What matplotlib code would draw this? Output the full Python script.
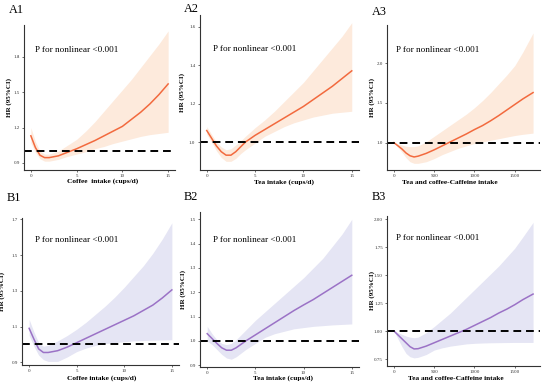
import matplotlib
matplotlib.use("Agg")
import matplotlib.pyplot as plt
from matplotlib.ticker import FormatStrFormatter

plt.rcParams['font.family'] = ['Liberation Serif', 'DejaVu Serif']

# ---- data ----
# coffee / tea in cups/d, caffeine in mg
a1_x = [0, 0.5, 1, 1.5, 2, 3, 4, 5, 6, 7, 8, 9, 10, 11, 12, 13, 14, 15]
a1_hr = [1.13, 1.03, 0.965, 0.945, 0.945, 0.96, 0.99, 1.02, 1.055, 1.09, 1.13, 1.17, 1.21, 1.27, 1.33, 1.40, 1.48, 1.57]
a1_up = [1.20, 1.08, 1.0, 0.975, 0.975, 1.0, 1.05, 1.10, 1.17, 1.25, 1.34, 1.43, 1.52, 1.61, 1.71, 1.81, 1.91, 2.02]
a1_lo = [1.07, 0.99, 0.935, 0.915, 0.915, 0.93, 0.955, 0.975, 0.995, 1.02, 1.04, 1.065, 1.085, 1.105, 1.125, 1.14, 1.15, 1.16]

a2_x = [0, 0.5, 1, 1.5, 2, 2.5, 3, 3.5, 4, 5, 6, 7, 8, 9, 10, 11, 12, 13, 14, 15]
a2_hr = [1.06, 1.02, 0.98, 0.95, 0.932, 0.932, 0.95, 0.975, 1.0, 1.035, 1.065, 1.095, 1.125, 1.155, 1.185, 1.22, 1.255, 1.29, 1.33, 1.37]
a2_up = [1.08, 1.04, 1.0, 0.975, 0.96, 0.965, 0.985, 1.005, 1.03, 1.075, 1.115, 1.16, 1.21, 1.26, 1.31, 1.37, 1.43, 1.49, 1.55, 1.62]
a2_lo = [1.04, 1.0, 0.955, 0.92, 0.9, 0.9, 0.915, 0.94, 0.96, 0.995, 1.03, 1.055, 1.08, 1.10, 1.115, 1.13, 1.14, 1.15, 1.155, 1.16]

a3_x = [0, 50, 100, 150, 200, 250, 300, 400, 500, 600, 700, 800, 900, 1000, 1100, 1200, 1300, 1400, 1500, 1600, 1727]
a3_hr = [1.0, 0.96, 0.92, 0.87, 0.835, 0.82, 0.83, 0.865, 0.91, 0.96, 1.01, 1.06, 1.11, 1.165, 1.215, 1.275, 1.34, 1.41, 1.48, 1.55, 1.63]
a3_up = [1.0, 0.985, 0.97, 0.955, 0.95, 0.95, 0.96, 1.01, 1.08, 1.15, 1.22, 1.29, 1.36, 1.44, 1.53, 1.63, 1.74, 1.85, 1.97, 2.14, 2.38]
a3_lo = [1.0, 0.94, 0.88, 0.81, 0.76, 0.74, 0.74, 0.76, 0.80, 0.85, 0.89, 0.93, 0.96, 0.99, 1.01, 1.03, 1.05, 1.07, 1.09, 1.105, 1.12]

b1_x = [0, 0.5, 1, 1.5, 2, 3, 4, 5, 6, 7, 8, 9, 10, 11, 12, 13, 14, 15]
b1_hr = [1.09, 1.03, 0.975, 0.955, 0.955, 0.965, 0.985, 1.01, 1.035, 1.06, 1.085, 1.11, 1.135, 1.16, 1.19, 1.22, 1.26, 1.305]
b1_up = [1.14, 1.07, 1.01, 0.99, 0.995, 1.02, 1.05, 1.085, 1.125, 1.17, 1.215, 1.265, 1.32, 1.38, 1.44, 1.51, 1.59, 1.68]
b1_lo = [1.05, 0.99, 0.94, 0.915, 0.905, 0.905, 0.93, 0.96, 0.98, 0.995, 1.005, 1.01, 1.015, 1.02, 1.022, 1.024, 1.025, 1.026]

b2_x = [0, 0.5, 1, 1.5, 2, 2.5, 3, 3.5, 4, 5, 6, 7, 8, 9, 10, 11, 12, 13, 14, 15]
b2_hr = [1.03, 1.01, 0.99, 0.972, 0.962, 0.962, 0.972, 0.986, 1.0, 1.025, 1.05, 1.075, 1.10, 1.125, 1.148, 1.17, 1.195, 1.22, 1.245, 1.27]
b2_up = [1.06, 1.03, 1.005, 0.99, 0.985, 0.99, 1.005, 1.025, 1.045, 1.085, 1.12, 1.155, 1.19, 1.225, 1.26, 1.30, 1.34, 1.39, 1.44, 1.50]
b2_lo = [1.0, 0.985, 0.965, 0.945, 0.93, 0.925, 0.935, 0.95, 0.965, 0.99, 1.015, 1.03, 1.04, 1.05, 1.055, 1.06, 1.063, 1.066, 1.068, 1.07]

b3_x = [0, 50, 100, 150, 200, 250, 300, 400, 500, 600, 700, 800, 900, 1000, 1100, 1200, 1300, 1400, 1500, 1600, 1727]
b3_hr = [1.0, 0.965, 0.93, 0.895, 0.86, 0.84, 0.842, 0.865, 0.895, 0.925, 0.955, 0.985, 1.015, 1.05, 1.085, 1.12, 1.16, 1.195, 1.235, 1.28, 1.33]
b3_up = [1.0, 0.985, 0.97, 0.955, 0.945, 0.94, 0.945, 0.985, 1.04, 1.10, 1.16, 1.23, 1.30, 1.37, 1.44, 1.51, 1.58, 1.66, 1.74, 1.84, 1.97]
b3_lo = [1.0, 0.93, 0.86, 0.80, 0.77, 0.76, 0.765, 0.79, 0.83, 0.85, 0.865, 0.875, 0.885, 0.89, 0.893, 0.895, 0.896, 0.897, 0.898, 0.898, 0.898]

cups_ticks = [0, 5, 10, 15]
mg_ticks = [0, 500, 1000, 1500]

orange, orange_fill = '#F26A3E', '#FDEADC'
purple, purple_fill = '#9B72C6', '#E5E5F4'

W, H = 550, 389
fig = plt.figure(figsize=(5.5, 3.89), dpi=100)

# name, data, box (left, right, top, bottom px), xlim, ylim, yticks, fmt, xlabel, colours,
# p-text pos, ylabel x, xlabel pos
panels = [
    ('A1', a1_x, a1_hr, a1_up, a1_lo, (24, 175, 25, 170), (-0.75, 15.75), (0.84, 2.07),
     [0.9, 1.2, 1.5, 1.8], '%.1f', cups_ticks, 'Coffee  intake (cups/d)', orange, orange_fill,
     (0.073, 0.83), -0.08, (0.52, -0.08)),
    ('A2', a2_x, a2_hr, a2_up, a2_lo, (199.5, 359, 15, 170), (-0.75, 15.75), (0.855, 1.66),
     [1.0, 1.2, 1.4, 1.6], '%.1f', cups_ticks, 'Tea intake (cups/d)', orange, orange_fill,
     (0.084, 0.78), -0.088, (0.53, -0.075)),
    ('A3', a3_x, a3_hr, a3_up, a3_lo, (387, 540, 25, 170), (-86, 1813), (0.656, 2.48),
     [1.0, 1.5, 2.0], '%.1f', mg_ticks, 'Tea and coffee-Caffeine intake', orange, orange_fill,
     (0.059, 0.83), -0.078, (0.41, -0.087)),
    ('B1', b1_x, b1_hr, b1_up, b1_lo, (22, 179, 218, 365), (-0.75, 15.75), (0.885, 1.707),
     [0.9, 1.1, 1.3, 1.5, 1.7], '%.1f', cups_ticks, 'Coffee intake (cups/d)', purple, purple_fill,
     (0.083, 0.85), -0.108, (0.51, -0.088)),
    ('B2', b2_x, b2_hr, b2_up, b2_lo, (200, 359, 212, 367), (-0.75, 15.75), (0.893, 1.53),
     [0.9, 1.0, 1.1, 1.2, 1.3, 1.4, 1.5], '%.1f', cups_ticks, 'Tea intake (cups/d)', purple, purple_fill,
     (0.08, 0.82), -0.088, (0.52, -0.07)),
    ('B3', b3_x, b3_hr, b3_up, b3_lo, (387, 540, 216, 366), (-86, 1813), (0.6875, 2.027),
     [0.75, 1.0, 1.25, 1.5, 1.75, 2.0], '%.2f', mg_ticks, 'Tea and coffee-Caffeine intake', purple, purple_fill,
     (0.06, 0.85), -0.078, (0.45, -0.08)),
]

label_pos = {'A1': (9, 10), 'A2': (184, 9), 'A3': (372, 12),
             'B1': (7, 198), 'B2': (184, 197), 'B3': (372, 197)}

for (name, x, hr, up, lo, box, xlim, ylim, yticks, fmt, xticks, xlabel, col, fill,
     ppos, ylx, xlpos) in panels:
    l, r, t, b = box
    ax = fig.add_axes([l / W, 1 - b / H, (r - l) / W, (b - t) / H])
    ax.fill_between(x, lo, up, color=fill, lw=0)
    ax.plot(x, hr, color=col, lw=1.1)
    ax.axhline(1.0, color='black', lw=1.4, ls=(0, (4, 2.5)))
    ax.set_xlim(*xlim)
    ax.set_ylim(*ylim)
    ax.set_xticks(xticks)
    ax.set_yticks(yticks)
    ax.yaxis.set_major_formatter(FormatStrFormatter(fmt))
    for s in ['top', 'right']:
        ax.spines[s].set_visible(False)
    for s in ['left', 'bottom']:
        ax.spines[s].set_color('#333333')
        ax.spines[s].set_linewidth(0.8)
    ax.tick_params(labelsize=3.6, length=1.5, width=0.5, pad=1.5, colors='#333333')
    ax.set_ylabel('HR (95%CI)', fontsize=5, fontweight='bold')
    ax.yaxis.set_label_coords(ylx, 0.5)
    ax.text(xlpos[0], xlpos[1], xlabel, transform=ax.transAxes, fontsize=5.3,
            fontweight='bold', ha='center', va='center')
    ax.text(ppos[0], ppos[1], 'P for nonlinear <0.001', transform=ax.transAxes,
            fontsize=6.6, ha='left', va='center')
    lx, ly = label_pos[name]
    fig.text(lx / W, 1 - ly / H, name, fontsize=8.8, ha='left', va='center')

fig.savefig('out.png', dpi=100)
